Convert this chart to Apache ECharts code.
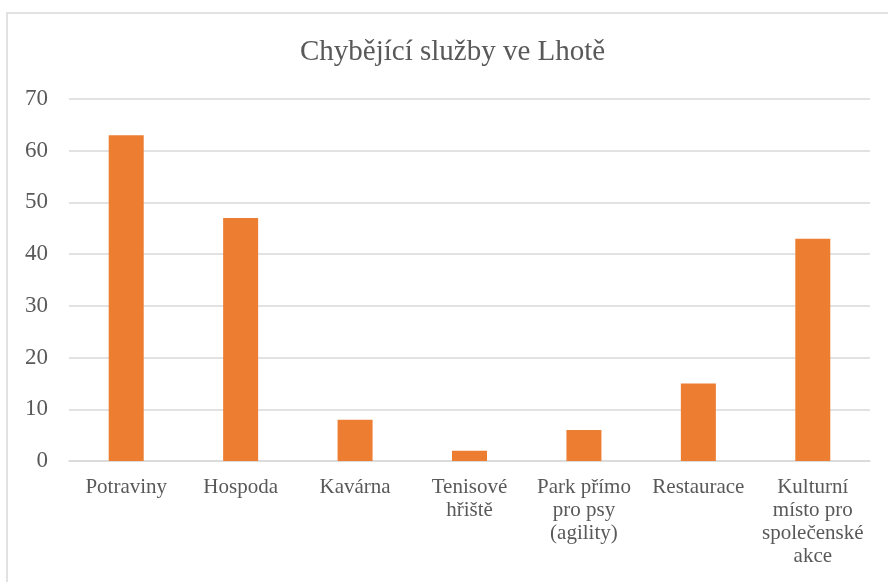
<!DOCTYPE html>
<html>
<head>
<meta charset="utf-8">
<script src="https://cdn.jsdelivr.net/npm/echarts@6/dist/echarts.min.js"></script>
<style>html,body{margin:0;padding:0;background:#fff;}#c{width:888px;height:582px;}</style>
</head>
<body>
<div id="c"></div>
<script>
const titleText = 'Chybějící služby ve Lhotě';
const categories = ['Potraviny', 'Hospoda', 'Kavárna', 'Tenisové\nhřiště', 'Park přímo\npro psy\n(agility)', 'Restaurace', 'Kulturní\nmísto pro\nspolečenské\nakce'];
const values = [63, 47, 8, 2, 6, 15, 43];
const yMin = 0, yMax = 70, yStep = 10;

const font = '"Liberation Serif", "Times New Roman", serif';
const chart = echarts.init(document.getElementById('c'), null, {renderer: 'canvas'});
chart.setOption({
  backgroundColor: '#ffffff',
  animation: false,
  graphic: [{
    type: 'rect', silent: true,
    shape: {x: 7, y: 13, width: 900, height: 600},
    style: {fill: 'none', stroke: '#d9d9d9', lineWidth: 1.5}
  }],
  title: {
    text: titleText, left: 295, top: 33,
    textStyle: {fontFamily: font, fontSize: 29, fontWeight: 'normal', color: '#595959'}
  },
  grid: {left: 69, right: 18, top: 99, bottom: 121, containLabel: false},
  xAxis: {
    type: 'category', data: categories,
    axisLine: {lineStyle: {color: '#d9d9d9', width: 1.5}},
    axisTick: {show: false},
    axisLabel: {interval: 0, margin: 15, fontFamily: font, fontSize: 21, color: '#595959', lineHeight: 23}
  },
  yAxis: {
    type: 'value', min: yMin, max: yMax, interval: yStep,
    axisLine: {show: false}, axisTick: {show: false},
    splitLine: {lineStyle: {color: '#d9d9d9', width: 1.5}},
    axisLabel: {margin: 21, fontFamily: font, fontSize: 23, color: '#595959'}
  },
  series: [{
    type: 'bar', data: values, barWidth: 35,
    itemStyle: {color: '#ED7D31'}
  }]
});
</script>
</body>
</html>
